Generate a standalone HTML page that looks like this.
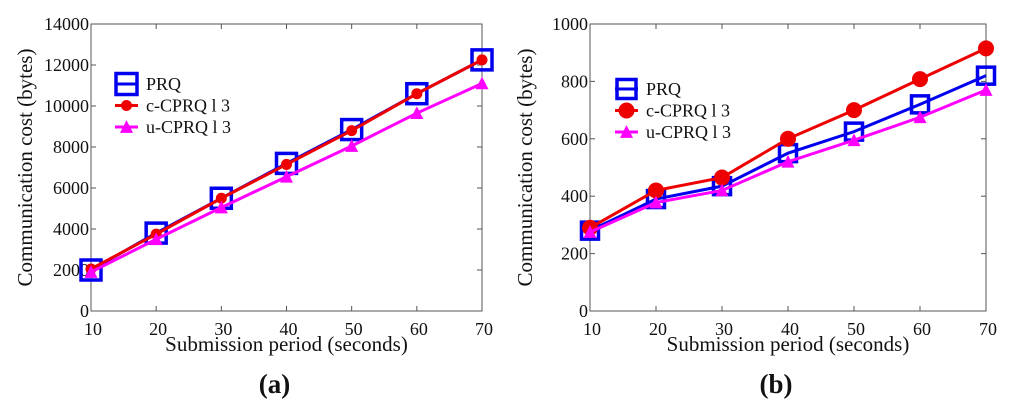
<!DOCTYPE html>
<html><head><meta charset="utf-8"><style>
body{margin:0;background:#fff;}
svg text{font-family:"Liberation Serif",serif;fill:#111;}
</style></head><body>
<svg id="s" width="1024" height="410" xmlns="http://www.w3.org/2000/svg"></svg>
<script>
const xCats=[10,20,30,40,50,60,70];
const aTicks=[0,2000,4000,6000,8000,10000,12000,14000];
const aPRQ=[2000,3800,5500,7200,8850,10600,12250];
const aC=[2050,3750,5500,7150,8800,10600,12250];
const aU=[1900,3500,5050,6550,8050,9650,11100];
const bTicks=[0,200,400,600,800,1000];
const bPRQ=[280,390,435,550,625,720,820];
const bC=[290,420,465,600,700,808,915];
const bU=[275,378,420,520,595,675,770];
const legendLabels=["PRQ","c-CPRQ l 3","u-CPRQ l 3"];
const NS="http://www.w3.org/2000/svg";
const svg=document.getElementById('s');
function mk(tag,attrs,parent){const e=document.createElementNS(NS,tag);for(const k in attrs)e.setAttribute(k,attrs[k]);(parent||svg).appendChild(e);return e;}
function marker(g,type,x,y,sz){
 if(type==='sq'){const e=mk('rect',{x:x-sz/2,y:y-sz/2,width:sz,height:sz,fill:'none',stroke:'#0000ee','stroke-width':3.5},g);
  }
 else if(type==='c'){const e=mk('circle',{cx:x,cy:y,r:sz/2,fill:'#ee0000'},g);
  }
 else {const h=sz*0.9;const e=mk('polygon',{points:`${x},${y-h/2-1} ${x-sz/2},${y+h/2} ${x+sz/2},${y+h/2}`,fill:'#ff00ff'},g);
  }
}
function chart(o){
 const g=mk('g',{});
 
 
 const X=v=>o.x0+(v-10)/60*(o.x1-o.x0);
 const Y=v=>o.y1-(v/o.max)*(o.y1-o.y0);
 const fr=mk('rect',{x:o.x0,y:o.y0,width:o.x1-o.x0,height:o.y1-o.y0,fill:'none',stroke:'#555','stroke-width':1},g);
 
 o.ticks.forEach(t=>{const y=Y(t);
  mk('line',{x1:o.x0,x2:o.x0+5,y1:y,y2:y,stroke:'#555'},g);mk('line',{x1:o.x1,x2:o.x1-5,y1:y,y2:y,stroke:'#555'},g);
  const tx=mk('text',{x:o.x0-2,y:y+6,'text-anchor':'end','font-size':18},g);tx.textContent=t;
  });
 xCats.forEach(c=>{const x=X(c);
  mk('line',{x1:x,x2:x,y1:o.y1,y2:o.y1-5,stroke:'#555'},g);mk('line',{x1:x,x2:x,y1:o.y0,y2:o.y0+5,stroke:'#555'},g);
  const tx=mk('text',{x:x+2,y:o.y1+24,'text-anchor':'middle','font-size':18},g);tx.textContent=c;
  });
 const series=[[o.prq,'#0000ee','sq',o.sq],[o.c,'#ee0000','c',o.cs],[o.u,'#ff00ff','t',13]];
 series.forEach(([d,col,t,sz],i)=>{
  const pl=mk('polyline',{points:d.map((v,j)=>X(xCats[j])+','+Y(v)).join(' '),fill:'none',stroke:col,'stroke-width':3},g);
  
  d.forEach((v,j)=>marker(g,t,X(xCats[j]),Y(v),sz));
  const ly=o.ly+i*21.5;
  mk('line',{x1:o.lx,x2:o.lx+23,y1:ly,y2:ly,stroke:col,'stroke-width':3},g);
  marker(g,t,o.lx+11.5,ly,t==='sq'?o.lsq:(t==='c'?o.cs:13));
  const lt=mk('text',{x:o.lx+31,y:ly+6,'font-size':18},g);lt.textContent=legendLabels[i];
  
 });
 const xl=mk('text',{x:(o.x0+o.x1)/2,y:351,'text-anchor':'middle','font-size':21},g);xl.textContent='Submission period (seconds)';
 
 const yl=mk('text',{x:0,y:0,'text-anchor':'middle','font-size':21,transform:`translate(${o.ylx},${(o.y0+o.y1)/2}) rotate(-90)`},g);yl.textContent='Communication cost (bytes)';
 
 const cap=mk('text',{x:(o.x0+o.x1)/2-12,y:393,'text-anchor':'middle','font-size':27,'font-weight':'bold'},g);cap.textContent=o.cap;
 
}
chart({name:'chart-a',x0:91,x1:482,y0:24,y1:311,max:14000,ticks:aTicks,prq:aPRQ,c:aC,u:aU,sq:20,cs:11,lsq:21,lx:115,ly:84,ylx:32,cap:'(a)'});
chart({name:'chart-b',x0:590,x1:986,y0:24,y1:311,max:1000,ticks:bTicks,prq:bPRQ,c:bC,u:bU,sq:17,cs:16,lsq:19,lx:615,ly:89,ylx:532,cap:'(b)'});
</script>
</body></html>
